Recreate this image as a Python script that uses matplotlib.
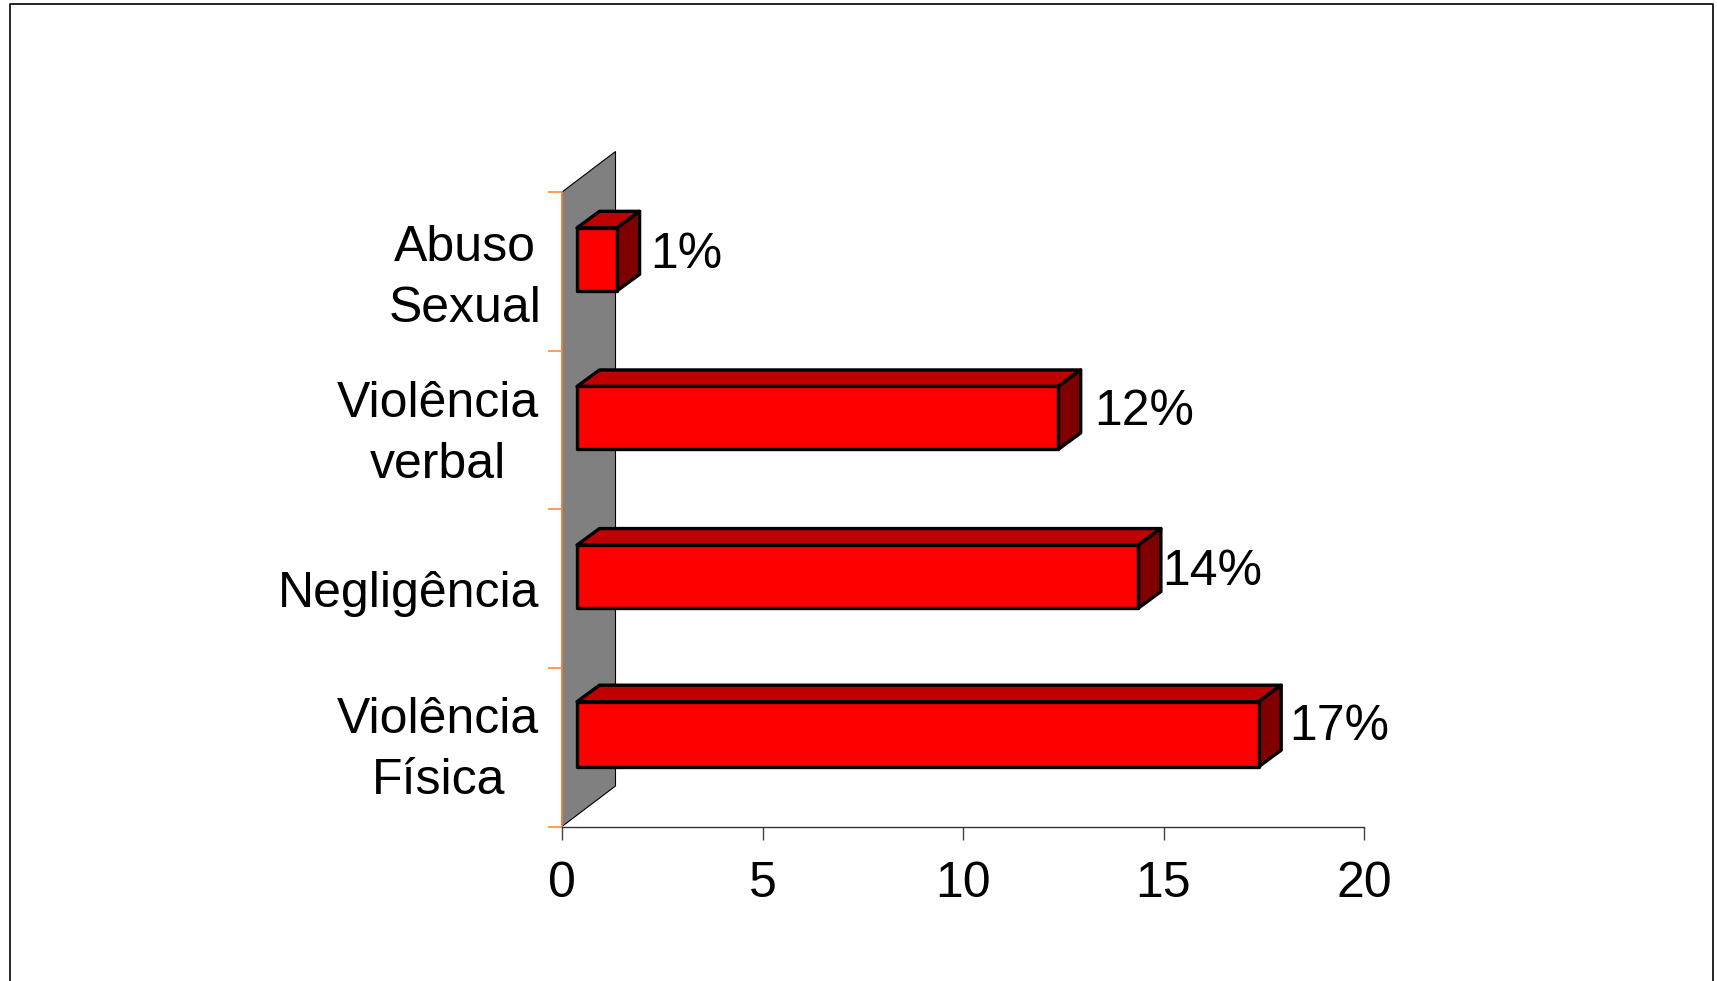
import matplotlib
matplotlib.use('Agg')
import matplotlib.pyplot as plt
from matplotlib.lines import Line2D
from matplotlib.patches import Polygon
from matplotlib.transforms import ScaledTranslation

plt.rcParams['font.family'] = ['Liberation Sans', 'DejaVu Sans']

categories = ['Violência\nFísica', 'Negligência', 'Violência\nverbal', 'Abuso\nSexual']
values = [17, 14, 12, 1]
value_labels = ['17%', '14%', '12%', '1%']
x_ticks = [0, 5, 10, 15, 20]

W, H = 1717, 981
X0, X1 = 562, 1364
Y0, Y1 = 826.5, 192

fig = plt.figure(figsize=(W / 100, H / 100), dpi=100, facecolor='white')
ax = fig.add_axes([X0 / W, 1 - Y0 / H, (X1 - X0) / W, (Y0 - Y1) / H])
ax.set_xlim(0, 20)
ax.set_ylim(0, 4)
ax.patch.set_alpha(0)

# px -> data units
ux = (X1 - X0) / 20
uy = (Y0 - Y1) / 4

# grey back wall
wall_dx = 53.5 / ux
wall_dy = 40.5 / uy
ax.add_patch(Polygon([(0, 0), (wall_dx, wall_dy), (wall_dx, 4 + wall_dy), (0, 4)],
                     facecolor='#808080', edgecolor='black', lw=0.8, clip_on=False, zorder=1))

# 3d bars
off_x = 15 / ux
off_y = 12 / uy
dx = 22.5 / ux
dy = 16.5 / uy
bar_px = [65, 63, 63, 63]
label_gap = [8, 1, 14, 11]
label_rise = [6, 3, 4.5, 3]

for i, v in enumerate(values):
    left = off_x
    right = v + off_x
    bottom = i + 0.5 + off_y - 63 / uy / 2
    top = bottom + bar_px[i] / uy
    style = dict(edgecolor='black', lw=2.4, joinstyle='round', clip_on=False, zorder=3)
    ax.add_patch(Polygon([(left, top), (left + dx, top + dy), (right + dx, top + dy), (right, top)],
                         facecolor='#c00000', **style))
    ax.add_patch(Polygon([(right, bottom), (right + dx, bottom + dy), (right + dx, top + dy), (right, top)],
                         facecolor='#800000', **style))
    ax.add_patch(Polygon([(left, bottom), (right, bottom), (right, top), (left, top)],
                         facecolor='#ff0000', **style))
    ax.annotate(value_labels[i], xy=(right + dx, i + 0.5 + off_y), xytext=(label_gap[i] * 0.72, label_rise[i]),
                textcoords='offset points', ha='left', va='center', fontsize=36, color='black', zorder=4)

# axes
for s in ['top', 'right']:
    ax.spines[s].set_visible(False)
ax.spines['left'].set_color('#ff8c40')
ax.spines['left'].set_linewidth(1.2)
ax.spines['left'].set_zorder(2)
ax.spines['bottom'].set_color('#333333')
ax.spines['bottom'].set_linewidth(1)

ax.set_xticks(x_ticks)
ax.tick_params(axis='x', length=9.5, width=1, color='#444444', labelsize=36, pad=15.5)
ax.set_yticks([0, 1, 2, 3, 4])
ax.set_yticklabels([])
ax.tick_params(axis='y', which='major', length=10, width=1.2, color='#ff8c40')
ax.set_yticks([0.5, 1.5, 2.5, 3.5], minor=True)
ax.set_yticklabels(categories, minor=True, fontsize=36, multialignment='center', linespacing=1.42)
ax.tick_params(axis='y', which='minor', length=0, pad=17)

# small nudges of the category labels, in pixels
nudge = [(1, 9.5), (1, 0), (1, 8), (3, 5.5)]
for lab, (nx, ny) in zip(ax.get_yticklabels(minor=True), nudge):
    lab.set_transform(lab.get_transform() + ScaledTranslation(nx / 100, ny / 100, fig.dpi_scale_trans))

# page frame, open at the bottom
frame_x = [9.5 / W, 9.5 / W, 1712.5 / W, 1712.5 / W]
frame_y = [0, 1 - 4 / H, 1 - 4 / H, 0]
fig.add_artist(Line2D(frame_x, frame_y, color='black', lw=1.2, transform=fig.transFigure))

fig.savefig('out.png', dpi=100)
